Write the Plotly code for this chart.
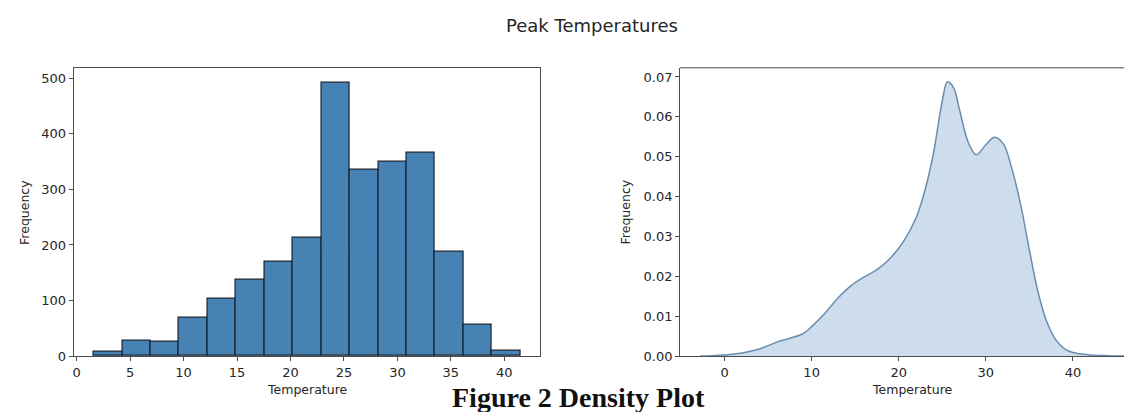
import plotly.graph_objects as go

# ---- data ----
bin_edges = [1.6, 4.26, 6.92, 9.58, 12.24, 14.9, 17.56, 20.22, 22.88, 25.54,
             28.2, 30.86, 33.52, 36.18, 38.84, 41.5]
hist_counts = [8, 27, 25, 69, 103, 138, 170, 213, 492, 336, 349, 366, 187, 56, 9]

kde_x = [-2.8, 0, 2, 4, 6, 7.5, 9, 10, 11.5, 13, 14.5, 16, 17.5, 19, 20.5, 22,
         23, 24, 25, 25.6, 26.3, 27, 28, 28.9, 30, 31, 32, 33, 34, 35, 36, 37,
         38, 39, 40, 42, 44, 46]
kde_y = [0, 0.0003, 0.0008, 0.0018, 0.0035, 0.0045, 0.0056, 0.0074, 0.0107,
         0.0145, 0.0176, 0.0198, 0.0217, 0.0245, 0.0286, 0.0347, 0.0415, 0.0510,
         0.0640, 0.0688, 0.0673, 0.0616, 0.0535, 0.0505, 0.0530, 0.0549, 0.0533,
         0.0469, 0.0380, 0.0266, 0.0160, 0.0086, 0.0042, 0.0019, 0.0009, 0.0003,
         0.0001, 0]

hist_xticks = [0, 5, 10, 15, 20, 25, 30, 35, 40]
hist_yticks = [0, 100, 200, 300, 400, 500]
kde_xticks = [0, 10, 20, 30, 40]
kde_yticks = [0.00, 0.01, 0.02, 0.03, 0.04, 0.05, 0.06, 0.07]

title_text = "Peak Temperatures"
caption_text = "Figure 2 Density Plot"
x_label = "Temperature"
y_label = "Frequency"

# ---- figure ----
W, H = 1132, 412
FONT = "DejaVu Sans"
TXT = "#262626"
SPINE = "#4d4d4d"

centers = [(a + b) / 2 for a, b in zip(bin_edges[:-1], bin_edges[1:])]
widths = [b - a for a, b in zip(bin_edges[:-1], bin_edges[1:])]

fig = go.Figure()
fig.add_trace(go.Bar(
    x=centers, y=hist_counts, width=widths,
    marker=dict(color="#4682b4", line=dict(color="#17222e", width=1.2)),
    xaxis="x", yaxis="y", showlegend=False,
))
fig.add_trace(go.Scatter(
    x=kde_x, y=kde_y, mode="lines", line=dict(color="#6a8db0", width=1.5, shape="spline", smoothing=1.0),
    fill="tozeroy", fillcolor="rgba(70,130,180,0.27)",
    xaxis="x2", yaxis="y2", showlegend=False,
))

def px_x(p):
    return p / W

def px_y(p):
    return 1 - p / H

ydom = [px_y(355), px_y(61)]

common = dict(showgrid=False, zeroline=False, ticks="outside", ticklen=4,
              tickwidth=1, tickcolor=SPINE, linecolor=SPINE, linewidth=1,
              showline=True, tickfont=dict(family=FONT, size=13, color=TXT))

fig.update_layout(
    width=W, height=H, autosize=False,
    margin=dict(l=0, r=0, t=0, b=0),
    paper_bgcolor="white", plot_bgcolor="white",
    bargap=0,
    xaxis=dict(domain=[px_x(64.7), px_x(531.7)], range=[-0.28, 43.36],
               tickvals=hist_xticks, mirror=True, anchor="y", **common),
    yaxis=dict(domain=ydom, range=[0, 518.9], tickvals=hist_yticks,
               mirror=True, anchor="x", **common),
    xaxis2=dict(domain=[px_x(671.7), 1.0], range=[-5.1, 47.7],
                tickvals=kde_xticks, anchor="y2", **common),
    yaxis2=dict(domain=ydom, range=[0, 0.0723], tickvals=kde_yticks,
                tickformat=".2f", anchor="x2", **common),
)

# top border of the right panel (its right border lies outside the picture)
fig.add_shape(type="line", xref="x2 domain", yref="y2 domain", x0=0, x1=1, y0=1, y1=1,
              line=dict(color=SPINE, width=1))

ann = []
ann.append(dict(text=title_text, x=px_x(584), y=px_y(18), xref="paper", yref="paper",
                showarrow=False, font=dict(family=FONT, size=18, color=TXT),
                xanchor="center", yanchor="middle"))
ann.append(dict(text=f"<b>{caption_text}</b>", x=px_x(570), y=px_y(397), xref="paper", yref="paper",
                showarrow=False, font=dict(family="Liberation Serif", size=28, color="#111"),
                xanchor="center", yanchor="middle"))
for xc in (298, 904):
    ann.append(dict(text=x_label, x=px_x(xc), y=px_y(389), xref="paper", yref="paper",
                    showarrow=False, font=dict(family=FONT, size=12.5, color=TXT),
                    xanchor="center", yanchor="middle"))
for xc in (16, 618):
    ann.append(dict(text=y_label, x=px_x(xc), y=px_y(208), xref="paper", yref="paper",
                    showarrow=False, textangle=-90, font=dict(family=FONT, size=12.5, color=TXT),
                    xanchor="center", yanchor="middle"))
fig.update_layout(annotations=ann)

fig.write_html("out.html")
